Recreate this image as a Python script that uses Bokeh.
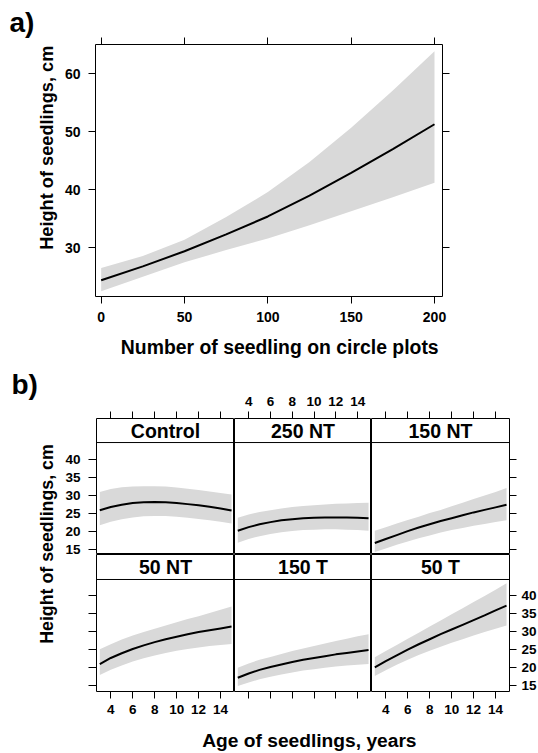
from math import pi
from bokeh.plotting import figure
from bokeh.models import Range1d, LinearAxis, FixedTicker, Span, Label, Grid
from bokeh.layouts import row, column
from bokeh.embed import file_html
from bokeh.resources import INLINE

FONT = "Liberation Sans"
BAND = "#D9D9D9"

# ---------------- data: panel a ----------------
a_x = [0, 25, 50, 75, 100, 125, 150, 175, 200]
a_fit = [24.4, 26.8, 29.4, 32.3, 35.4, 39.0, 42.9, 47.0, 51.3]
a_upper = [26.5, 28.6, 31.4, 35.3, 39.6, 44.8, 50.7, 57.1, 63.9]
a_lower = [22.5, 25.0, 27.5, 29.6, 31.6, 33.9, 36.3, 38.7, 41.2]
a_xticks = [0, 50, 100, 150, 200]
a_yticks = [30, 40, 50, 60]

# ---------------- data: panel b ----------------
b_age = [3, 4, 5, 6, 7, 8, 9, 10, 11, 12, 13, 14, 15]
b_xticks = [4, 6, 8, 10, 12, 14]
b_yticks = [15, 20, 25, 30, 35, 40]

control_fit = [25.9, 26.8, 27.4, 27.9, 28.1, 28.2, 28.1, 27.9, 27.6, 27.3, 26.9, 26.4, 25.8]
control_up = [31.0, 31.8, 32.3, 32.5, 32.6, 32.6, 32.5, 32.2, 31.9, 31.5, 31.1, 30.7, 30.3]
control_lo = [21.7, 22.7, 23.4, 23.9, 24.2, 24.3, 24.3, 24.1, 23.8, 23.5, 23.1, 22.7, 22.2]

nt250_fit = [20.2, 21.2, 22.0, 22.6, 23.1, 23.4, 23.7, 23.8, 23.9, 23.9, 23.9, 23.8, 23.7]
nt250_up = [23.8, 24.7, 25.4, 25.9, 26.4, 26.8, 27.1, 27.3, 27.5, 27.7, 27.8, 27.9, 28.0]
nt250_lo = [16.9, 17.9, 18.7, 19.3, 19.8, 20.1, 20.4, 20.5, 20.6, 20.6, 20.5, 20.4, 20.2]

nt150_fit = [16.8, 17.9, 19.0, 20.1, 21.1, 22.0, 22.9, 23.7, 24.5, 25.3, 26.0, 26.7, 27.4]
nt150_up = [20.2, 21.2, 22.2, 23.2, 24.1, 25.1, 26.0, 27.0, 28.0, 29.0, 30.0, 31.0, 32.1]
nt150_lo = [14.3, 15.3, 16.3, 17.2, 18.1, 18.9, 19.7, 20.4, 21.0, 21.6, 22.1, 22.6, 23.1]

nt50_fit = [21.0, 22.7, 24.0, 25.2, 26.2, 27.1, 27.9, 28.6, 29.3, 29.9, 30.4, 30.9, 31.4]
nt50_up = [25.1, 26.5, 27.8, 28.9, 29.9, 30.8, 31.7, 32.6, 33.5, 34.3, 35.2, 36.1, 37.0]
nt50_lo = [18.0, 19.4, 20.6, 21.7, 22.6, 23.4, 24.1, 24.7, 25.2, 25.6, 26.0, 26.3, 26.6]

t150_fit = [17.2, 18.4, 19.4, 20.2, 20.9, 21.6, 22.2, 22.7, 23.2, 23.7, 24.1, 24.5, 24.9]
t150_up = [20.0, 21.2, 22.2, 23.0, 23.8, 24.6, 25.3, 26.0, 26.7, 27.4, 28.0, 28.7, 29.3]
t150_lo = [14.9, 15.9, 16.8, 17.5, 18.1, 18.7, 19.2, 19.6, 20.0, 20.3, 20.6, 20.8, 21.0]

t50_fit = [20.1, 21.8, 23.4, 25.0, 26.5, 27.9, 29.3, 30.6, 31.9, 33.2, 34.5, 35.9, 37.2]
t50_up = [22.9, 24.6, 26.3, 28.0, 29.7, 31.4, 33.1, 34.8, 36.5, 38.2, 39.9, 41.6, 43.4]
t50_lo = [17.7, 19.3, 20.8, 22.2, 23.5, 24.7, 25.8, 26.9, 27.9, 28.9, 29.9, 30.8, 31.7]

panel_names = ["Control", "250 NT", "150 NT", "50 NT", "150 T", "50 T"]
panel_fit = [control_fit, nt250_fit, nt150_fit, nt50_fit, t150_fit, t50_fit]
panel_up = [control_up, nt250_up, nt150_up, nt50_up, t150_up, t50_up]
panel_lo = [control_lo, nt250_lo, nt150_lo, nt50_lo, t150_lo, t50_lo]

ylab = "Height of seedlings, cm"


def make_fig(xr, yr, mb, fw=None, fh=None, w=None, h=None, outline=True):
    kw = dict(toolbar_location=None, output_backend="svg",
              x_axis_location=None, y_axis_location=None,
              x_range=xr, y_range=yr,
              min_border_left=mb[0], min_border_right=mb[1],
              min_border_top=mb[2], min_border_bottom=mb[3],
              background_fill_color="white", border_fill_color="white",
              frame_align=False)
    if fw is not None:
        kw["frame_width"] = fw
        kw["frame_height"] = fh
    else:
        kw["width"] = w
        kw["height"] = h
    p = figure(**kw)
    p.outline_line_color = "black" if outline else None
    p.outline_line_width = 1
    for g in p.select(type=Grid):
        g.visible = False
    return p


def add_axis(p, side, ticks, labels=True, size="14px", standoff=8, tick_out=7):
    ax = LinearAxis(ticker=FixedTicker(ticks=ticks))
    ax.axis_line_color = None
    ax.major_tick_in = 0
    ax.major_tick_out = tick_out
    ax.major_tick_line_color = "black"
    ax.major_tick_line_width = 1
    ax.minor_tick_line_color = None
    ax.major_label_text_font = FONT
    ax.major_label_text_font_style = "bold"
    ax.major_label_text_color = "black"
    if labels:
        ax.major_label_text_font_size = size
        ax.major_label_standoff = standoff
    else:
        ax.major_label_text_font_size = "0px"
        ax.major_label_overrides = {t: "" for t in ticks}
        ax.major_label_standoff = 0
    p.add_layout(ax, side)


def text_label(p, x, y, text, size, angle=0.0, align="left", baseline="middle"):
    p.add_layout(Label(x=x, y=y, text=text, angle=angle,
                       text_align=align, text_baseline=baseline,
                       text_font=FONT, text_font_style="bold",
                       text_font_size=size, text_color="black"))


# ---------------- panel a ----------------
A_main = make_fig(Range1d(-3.4, 204.8), Range1d(21.6, 65.05), (36, 96, 44, 30), fw=347, fh=252)
A_main.varea(x=a_x, y1=a_lower, y2=a_upper, fill_color=BAND, fill_alpha=1.0)
A_main.line(a_x, a_fit, line_color="black", line_width=2)
add_axis(A_main, "left", a_yticks, True, "14px", 8, 7)
add_axis(A_main, "below", a_xticks, True, "14px", 8, 7)
add_axis(A_main, "above", a_xticks, False, tick_out=7)
add_axis(A_main, "right", a_yticks, False, tick_out=7)

A_left = make_fig(Range1d(0, 59), Range1d(0, 370), (0, 0, 0, 0), w=59, h=370, outline=False)
text_label(A_left, 9, 348.0, "a)", "28px")
text_label(A_left, 46.4, 120.7, ylab, "18.2px", angle=pi / 2)

A_bottom = make_fig(Range1d(0, 479), Range1d(0, 44), (0, 0, 0, 0), w=479, h=44, outline=False)
text_label(A_bottom, 61.3, 23.8, "Number of seedling on circle plots", "19.4px")

panel_a = row(A_left, column(A_main, A_bottom))

# ---------------- panel b ----------------
XR = (2.7, 15.27)
YR_ROWS = [(13.6, 51.4), (13.4, 51.4)]
STRIP_ROWS = [44.72, 44.47]
FWS = [138, 137, 138]
FHS = [136, 137]

figs = []
for i in range(6):
    r, c = divmod(i, 3)
    left = 37 if c == 0 else 0
    right = 28 if c == 2 else 0
    top = 48 if r == 0 else 0
    bottom = 28 if r == 1 else 0
    yr = YR_ROWS[r]
    strip = STRIP_ROWS[r]
    p = make_fig(Range1d(*XR), Range1d(*yr), (left, right, top, bottom), fw=FWS[c], fh=FHS[r])
    p.varea(x=b_age, y1=panel_lo[i], y2=panel_up[i], fill_color=BAND, fill_alpha=1.0)
    p.line(b_age, panel_fit[i], line_color="black", line_width=2)
    p.add_layout(Span(location=strip, dimension="width", line_color="black", line_width=1))
    text_label(p, (XR[0] + XR[1]) / 2, (strip + yr[1]) / 2, panel_names[i], "19.5px",
               align="center", baseline="middle")
    if r == 0:
        add_axis(p, "above", b_xticks, c == 1, "13.5px", 6, 7)
        if c == 0:
            add_axis(p, "left", b_yticks, True, "13.5px", 8, 8)
        if c == 2:
            add_axis(p, "right", b_yticks, False, tick_out=7)
    else:
        add_axis(p, "below", b_xticks, c != 1, "13.5px", 6, 7)
        if c == 0:
            add_axis(p, "left", b_yticks, False, tick_out=8)
        if c == 2:
            add_axis(p, "right", b_yticks, True, "13.5px", 5, 7)
    figs.append(p)

B_left = make_fig(Range1d(0, 59), Range1d(0, 383), (0, 0, 0, 0), w=59, h=383, outline=False)
text_label(B_left, 11, 369.4, "b)", "28px")
text_label(B_left, 46.5, 109.7, ylab, "17.8px", angle=pi / 2)

B_bottom = make_fig(Range1d(0, 479), Range1d(0, 34), (0, 0, 0, 0), w=479, h=34, outline=False)
text_label(B_bottom, 142.7, 12.7, "Age of seedlings, years", "19.2px")

panel_b = row(B_left, column(row(*figs[:3]), row(*figs[3:]), B_bottom))

layout = column(panel_a, panel_b)

open("out.html", "w").write(file_html(layout, INLINE))
